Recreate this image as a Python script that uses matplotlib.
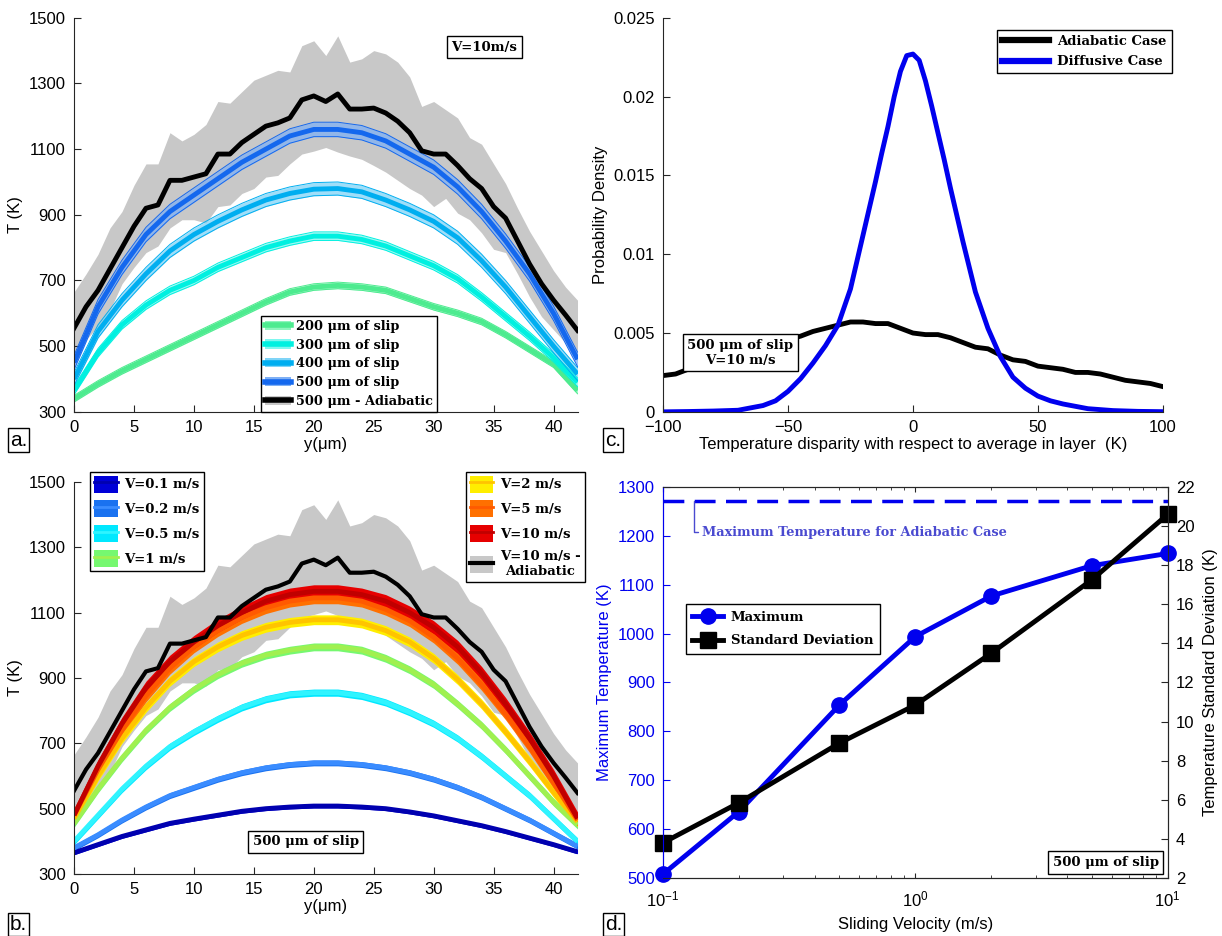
import numpy as np
import matplotlib.pyplot as plt
from matplotlib.patches import Patch
from matplotlib.lines import Line2D

plt.rcParams['font.family'] = ['Liberation Sans', 'DejaVu Sans']
plt.rcParams['font.size'] = 12
plt.rcParams['axes.edgecolor'] = '#262626'
plt.rcParams['xtick.color'] = '#262626'
plt.rcParams['ytick.color'] = '#262626'
SERIF = dict(family='DejaVu Serif', weight='bold')

# ---------------- data ----------------
# y positions (um)
y_full = np.arange(0, 43)
y_half = np.arange(0, 43, 2)

# adiabatic case, V=10 m/s, 500 um of slip
adiab_mean = [555, 620, 670, 735, 800, 865, 920, 930, 1005, 1005, 1015, 1025, 1085, 1085,
              1120, 1145, 1170, 1180, 1195, 1250, 1262, 1245, 1268, 1222, 1222, 1225, 1210,
              1185, 1150, 1095, 1085, 1085, 1050, 1010, 980, 925, 890, 820, 750, 690, 640,
              595, 548]
adiab_upper = [665, 720, 780, 860, 910, 990, 1055, 1055, 1150, 1125, 1145, 1175, 1245, 1240,
               1275, 1310, 1325, 1340, 1335, 1415, 1430, 1385, 1445, 1365, 1375, 1400, 1390,
               1365, 1320, 1230, 1245, 1220, 1195, 1135, 1115, 1055, 995, 920, 850, 790, 730,
               680, 640]
adiab_lower = [445, 520, 560, 610, 690, 740, 785, 805, 860, 885, 885, 875, 925, 930,
               965, 980, 1015, 1020, 1055, 1085, 1094, 1105, 1091, 1079, 1069, 1050, 1030,
               1005, 980, 960, 925, 950, 905, 885, 845, 795, 785, 720, 650, 590, 550,
               510, 456]

# panel a: slip distance at V=10 m/s
slip_labels = ['200 μm of slip', '300 μm of slip', '400 μm of slip', '500 μm of slip']
slip_200 = [340, 385, 425, 460, 495, 530, 565, 600, 635, 665, 680, 685, 680, 670, 645, 620,
            600, 575, 535, 490, 445, 365]
slip_300 = [365, 480, 565, 625, 670, 700, 740, 770, 800, 820, 835, 835, 825, 805, 775, 745,
            705, 650, 590, 530, 465, 390]
slip_400 = [400, 545, 640, 720, 790, 840, 880, 915, 945, 965, 978, 980, 970, 945, 915, 880,
            830, 760, 680, 590, 500, 415]
slip_500 = [450, 620, 740, 840, 910, 960, 1010, 1060, 1100, 1140, 1160, 1160, 1150, 1125,
            1085, 1045, 985, 910, 820, 720, 600, 460]
slip_spread = [10, 13, 20, 22]

# panel b: sliding velocity at 500 um of slip
vel_labels = ['V=0.1 m/s', 'V=0.2 m/s', 'V=0.5 m/s', 'V=1 m/s', 'V=2 m/s', 'V=5 m/s', 'V=10 m/s']
v_01 = [365, 390, 415, 435, 455, 468, 480, 492, 500, 505, 508, 508, 505, 500, 490, 478, 463,
        448, 430, 410, 390, 368]
v_02 = [380, 420, 465, 505, 540, 565, 590, 610, 625, 635, 640, 640, 635, 625, 610, 590, 565,
        535, 500, 465, 425, 385]
v_05 = [400, 480, 560, 630, 690, 735, 775, 810, 835, 850, 855, 855, 845, 825, 795, 760, 715,
        660, 600, 540, 470, 400]
v_1 = [455, 560, 655, 740, 810, 865, 910, 945, 970, 985, 995, 995, 985, 960, 925, 880, 820,
       755, 680, 600, 520, 450]
v_2 = [470, 600, 715, 810, 890, 950, 995, 1030, 1055, 1070, 1078, 1078, 1068, 1045, 1010, 960,
       895, 820, 735, 645, 550, 460]
v_5 = [480, 620, 740, 845, 930, 995, 1045, 1085, 1115, 1135, 1145, 1145, 1135, 1110, 1075,
       1025, 960, 880, 790, 690, 580, 465]
v_10 = [480, 630, 760, 870, 950, 1010, 1060, 1100, 1135, 1155, 1165, 1165, 1155, 1135, 1100,
        1055, 995, 915, 820, 715, 600, 470]
vel_spread = [6, 9, 11, 12, 15, 18, 20]

# panel c: probability density of temperature disparity
dT = [-100, -90, -80, -70, -60, -55, -50, -45, -40, -35, -30, -25, -20, -17.5, -15, -12.5,
      -10, -7.5, -5, -2.5, 0, 2.5, 5, 7.5, 10, 12.5, 15, 17.5, 20, 25, 30, 35, 40, 45, 50,
      55, 60, 70, 80, 90, 100]
pdf_diffusive = [0.0, 0.00002, 0.00005, 0.0001, 0.0004, 0.0007, 0.0013, 0.0021, 0.0031,
                 0.0042, 0.0055, 0.0078, 0.0112, 0.0129, 0.0146, 0.0164, 0.0181, 0.0200,
                 0.0216, 0.0226, 0.0227, 0.0223, 0.0210, 0.0194, 0.0177, 0.0160, 0.0142,
                 0.0125, 0.0108, 0.0076, 0.0053, 0.0035, 0.0022, 0.0015, 0.0010,
                 0.0007, 0.0005, 0.0002, 0.00008, 0.00003, 0.00001]
dT_adiab = [-100, -95, -90, -85, -80, -75, -70, -65, -60, -55, -50, -45, -40, -35, -30, -25,
            -20, -15, -10, -5, 0, 5, 10, 15, 20, 25, 30, 35, 40, 45, 50, 55, 60, 65, 70, 75,
            80, 85, 90, 95, 100]
pdf_adiabatic = [0.0023, 0.0024, 0.0027, 0.0029, 0.0031, 0.0033, 0.0036, 0.0038, 0.0040,
                 0.0043, 0.0046, 0.0048, 0.0051, 0.0053, 0.0055, 0.0057, 0.0057, 0.0056,
                 0.0056, 0.0053, 0.0050, 0.0049, 0.0049, 0.0047, 0.0044, 0.0041, 0.0040,
                 0.0036, 0.0033, 0.0032, 0.0029, 0.0028, 0.0027, 0.0025, 0.0025, 0.0024,
                 0.0022, 0.0020, 0.0019, 0.0018, 0.0016]

# panel d: vs sliding velocity
velocity = [0.1, 0.2, 0.5, 1, 2, 5, 10]
max_temp = [508, 636, 854, 994, 1077, 1139, 1164]
std_temp = [3.8, 5.85, 8.9, 10.85, 13.5, 17.25, 20.6]
max_temp_adiabatic = 1272

# ---------------- figure ----------------
fig = plt.figure(figsize=(12.22, 9.36), dpi=100)
ax_a = fig.add_axes([0.0606, 0.560, 0.412, 0.421])
ax_c = fig.add_axes([0.5426, 0.560, 0.409, 0.421])
ax_b = fig.add_axes([0.0606, 0.0662, 0.412, 0.419])
ax_d = fig.add_axes([0.5426, 0.062, 0.413, 0.4177])


def style_open(ax):
    ax.spines['top'].set_visible(False)
    ax.spines['right'].set_visible(False)
    ax.tick_params(direction='in', length=5, top=False, right=False, pad=6,
                   labelcolor='black')


def band(ax, x, mean, spread, fill, line, alpha=1.0, edges=False):
    mean = np.asarray(mean)
    ax.fill_between(x, mean - spread, mean + spread, color=fill, alpha=alpha, lw=0)
    if edges:
        ax.plot(x, mean - spread, color=line, lw=0.7)
        ax.plot(x, mean + spread, color=line, lw=0.7)
    ax.plot(x, mean, color=line, lw=3.5, solid_capstyle='butt')


def boxed(ax, x, y, s, **kw):
    ax.text(x, y, s, transform=ax.transAxes, fontsize=9.5, **SERIF,
            bbox=dict(boxstyle='square,pad=0.35', fc='white', ec='black', lw=1), **kw)


# ---- panel a ----
ax_a.fill_between(y_full, adiab_lower, adiab_upper, color='#c8c8c8', lw=0)
slip_fill = ['#8ef5bd', '#7ff7ef', '#7fd4f7', '#7fb0f5']
slip_line = ['#4deb8f', '#00f0e0', '#00aef0', '#1468ee']
for vals, sp, fc, lc in zip([slip_200, slip_300, slip_400, slip_500], slip_spread,
                            slip_fill, slip_line):
    band(ax_a, y_half, vals, sp, fc, lc, alpha=0.75, edges=True)
ax_a.plot(y_full, adiab_mean, color='black', lw=3.5)
ax_a.set_xlim(0, 42)
ax_a.set_ylim(300, 1500)
ax_a.set_xticks(range(0, 41, 5))
ax_a.set_yticks(range(300, 1501, 200))
ax_a.set_xlabel('y(μm)', labelpad=1)
ax_a.set_ylabel('T (K)')
style_open(ax_a)
handles_a = [(Patch(fc=f, ec='none'), Line2D([], [], color=l, lw=4))
             for f, l in zip(slip_fill, slip_line)]
handles_a.append((Patch(fc='#c8c8c8', ec='none'), Line2D([], [], color='black', lw=4)))
leg = ax_a.legend(handles_a, slip_labels + ['500 μm - Adiabatic'], loc='lower center',
                  bbox_to_anchor=(0.546, 0.0), borderaxespad=0, prop=dict(size=9.3, **SERIF),
                  fancybox=False, edgecolor='black', framealpha=1, labelspacing=0.45,
                  handlelength=2.0, handletextpad=0.4, borderpad=0.3)
leg.get_frame().set_linewidth(1)
boxed(ax_a, 0.815, 0.925, 'V=10m/s', ha='center', va='center')

# ---- panel b ----
ax_b.fill_between(y_full, adiab_lower, adiab_upper, color='#c8c8c8', lw=0)
vel_fill = ['#0000d8', '#1a72f0', '#00e8ff', '#76f870', '#ffee00', '#ff7000', '#e60000']
vel_line = ['#0000b0', '#3a8cff', '#30f4ff', '#a0f050', '#ffc400', '#ff5a00', '#c00000']
for vals, sp, fc, lc in zip([v_01, v_02, v_05, v_1, v_2, v_5, v_10], vel_spread,
                            vel_fill, vel_line):
    band(ax_b, y_half, vals, sp, fc, lc)
ax_b.plot(y_full, adiab_mean, color='black', lw=3)
ax_b.set_xlim(0, 42)
ax_b.set_ylim(300, 1500)
ax_b.set_xticks(range(0, 41, 5))
ax_b.set_yticks(range(300, 1501, 200))
ax_b.set_xlabel('y(μm)', labelpad=1)
ax_b.set_ylabel('T (K)')
style_open(ax_b)
handles_b = [(Patch(fc=f, ec='none'), Line2D([], [], color=l, lw=2))
             for f, l in zip(vel_fill, vel_line)]
handles_b.append((Patch(fc='#c8c8c8', ec='none'), Line2D([], [], color='black', lw=3)))
leg_kw = dict(prop=dict(size=9.5, **SERIF), fancybox=False, edgecolor='black', framealpha=1,
              labelspacing=0.6, handlelength=1.8, handleheight=1.6, handletextpad=0.5,
              borderpad=0.3, borderaxespad=0)
leg1 = ax_b.legend(handles_b[:4], vel_labels[:4], loc='upper left',
                   bbox_to_anchor=(0.032, 1.026), **leg_kw)
ax_b.add_artist(leg1)
leg2 = ax_b.legend(handles_b[4:], vel_labels[4:] + ['V=10 m/s -\nAdiabatic'],
                   loc='upper right', bbox_to_anchor=(1.014, 1.026), **leg_kw)
leg2.get_texts()[-1].set_multialignment('center')
boxed(ax_b, 0.46, 0.082, '500 μm of slip', ha='center', va='center')

# ---- panel c ----
ax_c.plot(dT_adiab, pdf_adiabatic, color='black', lw=3.5, label='Adiabatic Case')
ax_c.plot(dT, pdf_diffusive, color='#0000ee', lw=3.5, label='Diffusive Case')
ax_c.set_xlim(-100, 100)
ax_c.set_ylim(0, 0.025)
ax_c.set_xticks([-100, -50, 0, 50, 100])
ax_c.set_yticks([0, 0.005, 0.01, 0.015, 0.02, 0.025])
ax_c.set_yticklabels(['0', '0.005', '0.01', '0.015', '0.02', '0.025'])
ax_c.set_xlabel('Temperature disparity with respect to average in layer  (K)', labelpad=1)
ax_c.set_ylabel('Probability Density')
style_open(ax_c)
leg = ax_c.legend(loc='upper right', bbox_to_anchor=(1.018, 0.97), borderaxespad=0,
                  prop=dict(size=9.5, **SERIF), fancybox=False, edgecolor='black',
                  framealpha=1, labelspacing=0.55, handlelength=3.6, handletextpad=0.6,
                  borderpad=0.4)
for h in leg.legend_handles:
    h.set_linewidth(4.5)
boxed(ax_c, 0.155, 0.15, '500 μm of slip\nV=10 m/s', ha='center', va='center',
      multialignment='center')

# ---- panel d ----
ax_d.set_xscale('log')
ax_d.axhline(max_temp_adiabatic, color='#0000ee', lw=2.5, ls=(0, (6, 3)))
ax_d.plot(velocity, max_temp, color='#0000ee', lw=3.5, marker='o', ms=11,
          label='Maximum', clip_on=False, zorder=3)
ax_d.set_xlim(0.1, 10)
ax_d.set_ylim(500, 1300)
ax_d.set_yticks(range(500, 1301, 100))
ax_d.set_ylabel('Maximum Temperature (K)', color='#0000ee')
ax_d.tick_params(axis='y', colors='#0000ee', direction='in', length=5, pad=6)
ax_d.tick_params(axis='x', which='both', direction='in', top=True, pad=8,
                 labelcolor='black')
ax_d.set_xlabel('Sliding Velocity (m/s)', labelpad=6)
ax_d.annotate('Maximum Temperature for Adiabatic Case', xy=(0.133, max_temp_adiabatic),
              xytext=(0.143, 1207), color='#4a4ad0', fontsize=9.3, va='center',
              fontfamily='DejaVu Serif', fontweight='bold',
              arrowprops=dict(arrowstyle='-', color='#4a4ad0', lw=1,
                              connectionstyle='angle,angleA=0,angleB=90,rad=0',
                              shrinkA=1, shrinkB=0))
ax_d2 = ax_d.twinx()
ax_d2.plot(velocity, std_temp, color='black', lw=3.5, marker='s', ms=11,
           label='Standard Deviation', clip_on=False)
ax_d2.set_ylim(2, 22)
ax_d2.set_yticks(range(2, 23, 2))
ax_d2.set_ylabel('Temperature Standard Deviation (K)', labelpad=6)
ax_d2.tick_params(axis='y', direction='in', length=5, pad=6, labelcolor='black')
ax_d2.spines['left'].set_color('#0000ee')
ax_d.spines['left'].set_color('#0000ee')
hd = [Line2D([], [], color='#0000ee', lw=3.5, marker='o', ms=11),
      Line2D([], [], color='black', lw=3.5, marker='s', ms=11)]
leg = ax_d2.legend(hd, ['Maximum', 'Standard Deviation'], loc='upper left',
                   bbox_to_anchor=(0.045, 0.70), borderaxespad=0,
                   prop=dict(size=9.5, **SERIF), fancybox=False, edgecolor='black',
                   framealpha=1, labelspacing=0.8, handlelength=2.3, handletextpad=0.6,
                   borderpad=0.5)
boxed(ax_d2, 0.982, 0.023, '500 μm of slip', ha='right', va='bottom')

# panel letters
for x, y, s in [(0.008, 0.524, 'a.'), (0.008, 0.006, 'b.'),
                (0.495, 0.524, 'c.'), (0.495, 0.006, 'd.')]:
    fig.text(x, y, s, fontsize=15,
             bbox=dict(boxstyle='square,pad=0.1', fc='white', ec='black', lw=1))

fig.savefig('out.png', dpi=100)
